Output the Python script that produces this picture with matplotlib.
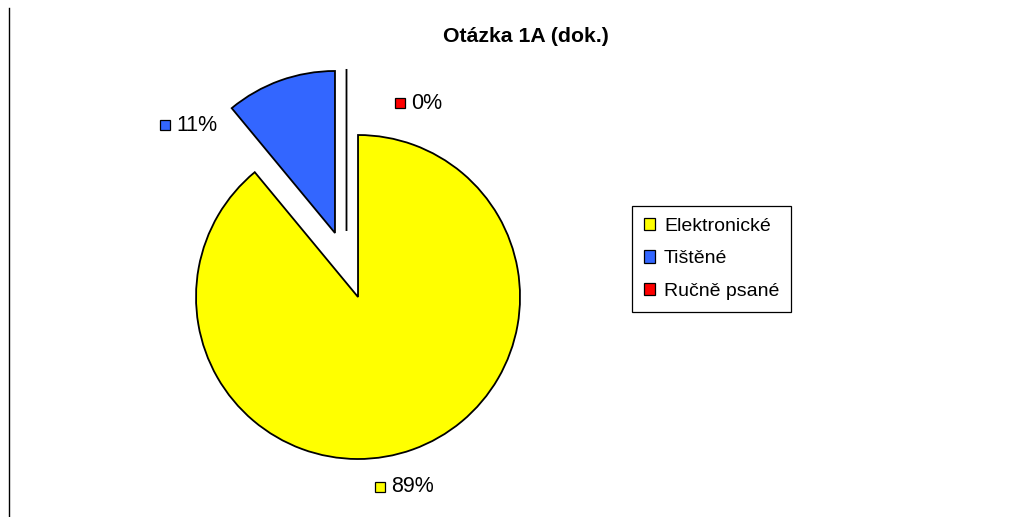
import matplotlib.pyplot as plt
from matplotlib.patches import Patch
from matplotlib.lines import Line2D

plt.rcParams['font.family'] = ['Liberation Sans', 'DejaVu Sans']

# Data
categories = ['Elektronické', 'Tištěné', 'Ručně psané']
values = [89, 11, 0]
colors = ['#FFFF00', '#3366FF', '#FF0000']
pct_labels = ['89%', '11%', '0%']
# label anchors (pie radius units, relative to pie centre)
label_pos = [(0.205, -1.37), (-1.12, 0.864), (0.33, 1.0)]

W, H = 1024, 517
fig = plt.figure(figsize=(W / 100, H / 100), dpi=100)

# pie axes: centre at (346.5, 265) px, radius 162 px
cx, cy, R = 346.5, 265.0, 162.0
x0, x1, y0, y1 = 150, 550, 40, 500
ax = fig.add_axes([x0 / W, (H - y1) / H, (x1 - x0) / W, (y1 - y0) / H])
ax.pie(values, colors=colors, startangle=90, counterclock=False,
       explode=[0.21] * len(values),
       wedgeprops=dict(edgecolor='black', linewidth=1.3))
ax.set_xlim((x0 - cx) / R, (x1 - cx) / R)
ax.set_ylim((cy - y1) / R, (cy - y0) / R)
ax.set_aspect('auto')
ax.axis('off')

for (lx, ly), txt, col in zip(label_pos, pct_labels, colors):
    ax.plot([lx], [ly], marker='s', ms=6.5, mfc=col, mec='black', mew=0.9,
            linestyle='none')
    ax.text(lx + 0.072, ly, txt, fontsize=15.5, va='center', ha='left')

fig.text(526 / W, 1 - 36 / H, 'Otázka 1A (dok.)', fontsize=15.3,
         fontweight='bold', ha='center', va='center')

handles = [Patch(facecolor=c, edgecolor='black', linewidth=0.9) for c in colors]
leg = fig.legend(handles, categories, loc='upper left',
                 bbox_to_anchor=(632 / W, 1 - 206 / H), fontsize=14,
                 frameon=True, fancybox=False, edgecolor='black',
                 framealpha=1, handlelength=0.6, handleheight=0.6,
                 handletextpad=0.45, borderpad=0.6, labelspacing=0.8,
                 borderaxespad=0)
leg.get_frame().set_linewidth(0.9)

# left border line
fig.add_artist(Line2D([8.5 / W, 8.5 / W], [0, 1 - 8 / H], color='black',
                      linewidth=1.0, transform=fig.transFigure))

fig.savefig('out.png', dpi=100)
